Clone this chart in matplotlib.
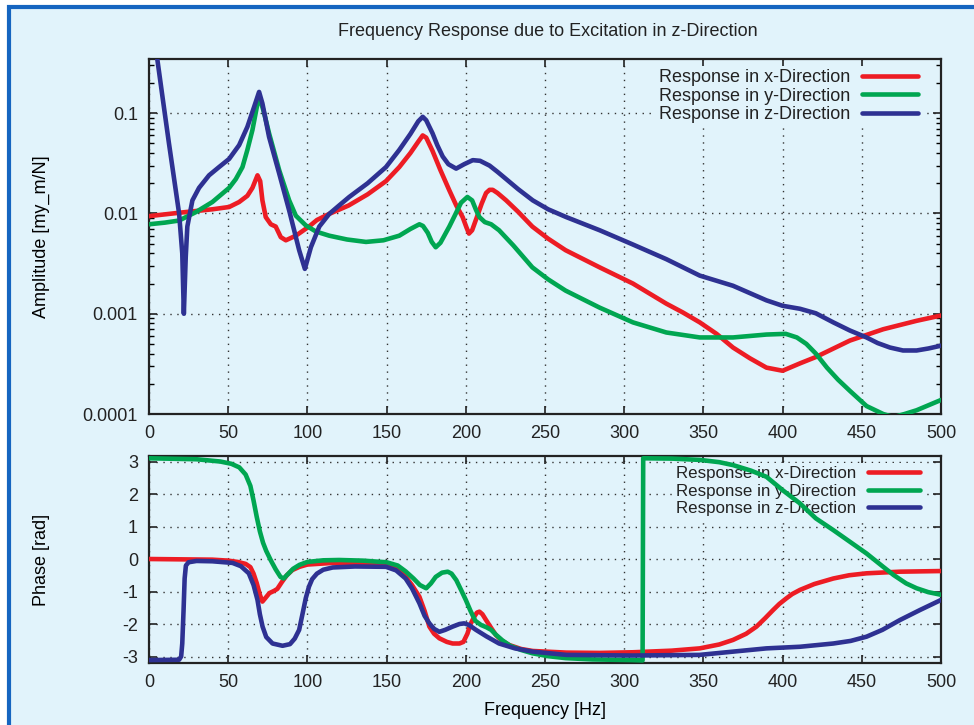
import numpy as np
import matplotlib.pyplot as plt
from matplotlib.patches import Rectangle
from matplotlib.ticker import LogLocator, NullFormatter

plt.rcParams['font.family'] = ['Liberation Sans', 'DejaVu Sans']
plt.rcParams['axes.unicode_minus'] = False

# colours
bg = '#e1f3fb'
red = '#ed1c24'
green = '#00a651'
blue = '#2e3192'

labels = ['Response in x-Direction', 'Response in y-Direction', 'Response in z-Direction']

# Amplitude data [my_m/N]
f_amp_x = [0, 20, 40, 50.6, 56.9, 62.1, 65.3, 68.5, 70.2, 71.6, 73.7, 76.9, 80, 83.2, 86.4, 92.7,
           101, 106, 113.8, 126, 138, 149.6, 158, 165, 170, 172.8, 175, 179, 184, 189.6, 194, 198,
           200.5, 202, 204, 207, 210, 212.8, 215, 217, 220, 225.5, 233, 242, 252, 263, 284.5,
           305.5, 326.6, 337, 347.7, 358.3, 368.7, 379.3, 389.8, 400, 411, 421, 442.5, 463.5,
           484.6, 500]
amp_x = [0.0094, 0.0102, 0.0110, 0.0116, 0.013, 0.015, 0.018, 0.024, 0.021, 0.0135, 0.0092,
         0.0078, 0.0074, 0.0058, 0.0054, 0.006, 0.0074, 0.0086, 0.0099, 0.012, 0.0155, 0.021,
         0.029, 0.040, 0.052, 0.060, 0.057, 0.042, 0.027, 0.017, 0.012, 0.0092, 0.0072, 0.0063,
         0.0068, 0.0092, 0.0125, 0.016, 0.0172, 0.0172, 0.016, 0.0135, 0.0104, 0.0074, 0.0056,
         0.0043, 0.0029, 0.0020, 0.00126, 0.00103, 0.00082, 0.00063, 0.00046, 0.00036, 0.00029,
         0.00027, 0.00032, 0.00037, 0.00054, 0.0007, 0.00085, 0.00096]

f_amp_y = [0, 10, 19, 29.5, 40, 50.6, 54.8, 59, 62.1, 65.3, 68.5, 69.5, 72.7, 75.8, 82.2, 88.5,
           92.7, 99, 105.4, 113.8, 125, 137, 148, 158, 165, 170.7, 173, 176, 178.5, 181, 184,
           189.6, 193, 197, 201, 204, 206.5, 208.6, 212, 216, 221, 230, 242, 252, 263, 284.5,
           305.5, 326.6, 347.7, 368.7, 389.8, 402, 409, 415, 421, 428, 435, 442.5, 453, 463.5,
           470, 477, 484.6, 500]
amp_y = [0.0078, 0.0081, 0.0085, 0.0103, 0.013, 0.018, 0.022, 0.029, 0.043, 0.068, 0.125, 0.15,
         0.1, 0.063, 0.027, 0.0135, 0.0095, 0.0076, 0.0066, 0.006, 0.0055, 0.0052, 0.0054, 0.006,
         0.007, 0.0078, 0.0075, 0.0064, 0.0052, 0.0046, 0.0051, 0.0074, 0.0095, 0.0128, 0.0146,
         0.0135, 0.0108, 0.0092, 0.0082, 0.0078, 0.0068, 0.0048, 0.0029, 0.0022, 0.0017,
         0.00115, 0.00082, 0.00065, 0.00058, 0.00058, 0.00062, 0.00063, 0.00058, 0.0005,
         0.0004, 0.00029, 0.00022, 0.00017, 0.00012, 0.0001, 0.000093, 0.0001, 0.000109,
         0.000138]

f_amp_z = [0, 5.3, 8.4, 12.6, 16.9, 19, 21, 22, 23.2, 24.2, 27.4, 31.6, 37.9, 44.2, 50.6, 56.9,
           62.1, 66.4, 69.5, 71.6, 75.8, 82.2, 88.5, 94.8, 98.4, 102.2, 107.5, 113.8, 120, 126.4,
           138, 149.6, 158, 165, 170, 172.8, 175, 179, 182, 185.4, 189, 193.9, 199, 204.4, 209,
           215, 220, 225.5, 233, 242.3, 252, 263.4, 284.5, 305.5, 326.6, 347.7, 368.7, 389.8,
           400, 411, 421, 432, 442.5, 453, 460, 467.8, 476, 484.6, 492, 500]
amp_z = [1.5, 0.34, 0.15, 0.05, 0.017, 0.01, 0.004, 0.001, 0.0037, 0.0074, 0.0135, 0.018, 0.024,
         0.029, 0.035, 0.048, 0.073, 0.116, 0.163, 0.125, 0.058, 0.025, 0.0107, 0.0043, 0.0028,
         0.0046, 0.0074, 0.0099, 0.012, 0.0146, 0.02, 0.029, 0.043, 0.062, 0.083, 0.092, 0.085,
         0.063, 0.048, 0.037, 0.031, 0.028, 0.031, 0.034, 0.0335, 0.030, 0.026, 0.022, 0.0175,
         0.0135, 0.011, 0.0092, 0.0068, 0.0049, 0.0035, 0.0024, 0.0019, 0.00136, 0.0012,
         0.00112, 0.00101, 0.00082, 0.00068, 0.00058, 0.00051, 0.00046, 0.00043, 0.00043,
         0.00045, 0.00048]

# Phase data [rad]
f_ph_x = [0, 40, 50, 56, 61, 64, 66, 68, 70, 71.6, 73.5, 76, 79, 81, 84, 87, 90.5, 95, 100, 116,
          140, 150, 157, 162, 166, 170.7, 174, 177, 180, 183.3, 188, 191.7, 196, 198.5, 201, 203,
          205.4, 207, 208.6, 210.5, 212.8, 216, 219, 223, 227.6, 235, 242.3, 263.4, 284.5, 305.5,
          330, 347.7, 360, 368.7, 377, 383.5, 389, 394, 398, 402.4, 406, 411, 420, 432, 442, 453,
          474, 500]
ph_x = [0.0, -0.02, -0.05, -0.09, -0.15, -0.25, -0.45, -0.74, -1.1, -1.31, -1.2, -1.05, -0.98,
        -0.92, -0.7, -0.5, -0.34, -0.24, -0.17, -0.12, -0.14, -0.18, -0.3, -0.54, -0.8, -1.16,
        -1.6, -2.08, -2.3, -2.44, -2.55, -2.6, -2.6, -2.55, -2.3, -2.0, -1.77, -1.65, -1.62,
        -1.7, -1.88, -2.12, -2.34, -2.52, -2.65, -2.77, -2.83, -2.88, -2.89, -2.87, -2.82,
        -2.75, -2.63, -2.49, -2.3, -2.08, -1.82, -1.57, -1.38, -1.21, -1.08, -0.95, -0.77,
        -0.6, -0.5, -0.44, -0.39, -0.37]

f_ph_y = [0, 30, 45, 52, 57, 61, 64, 66, 68, 70, 72, 74, 77, 80, 83, 85, 88, 91, 95, 100, 110,
          120, 135, 150, 157, 162, 167, 171, 175, 178, 181, 185, 188.6, 191, 194, 197, 200, 203,
          206, 209.6, 213, 216, 219, 223, 228, 235, 242, 252, 263, 280, 305, 311.6, 312, 330,
          347.7, 360, 368.7, 380, 389.8, 400, 411, 421, 432, 442.5, 453, 463.5, 470, 478, 484.6,
          492, 500]
ph_y = [3.1, 3.07, 3.0, 2.93, 2.82, 2.6, 2.25, 1.8, 1.3, 0.85, 0.5, 0.25, -0.05, -0.32, -0.55,
        -0.6, -0.45, -0.3, -0.18, -0.09, -0.04, -0.03, -0.05, -0.1, -0.2, -0.38, -0.6, -0.8,
        -0.9, -0.75, -0.55, -0.42, -0.39, -0.45, -0.65, -0.95, -1.26, -1.6, -1.9, -2.03, -2.1,
        -2.18, -2.33, -2.5, -2.67, -2.8, -2.9, -2.99, -3.05, -3.09, -3.11, -3.12, 3.1, 3.09,
        3.05, 2.98, 2.89, 2.72, 2.53, 2.12, 1.71, 1.25, 0.89, 0.53, 0.17, -0.24, -0.49, -0.75,
        -0.9, -1.02, -1.1]

f_ph_z = [0, 19, 20.3, 21, 21.8, 22.5, 23.3, 25, 30, 40, 52.7, 58, 63, 66, 68.5, 70, 71.7, 74,
          78, 84.3, 89, 92, 94.8, 97, 99, 101, 103, 106, 110, 116, 130, 149.6, 156, 162, 166,
          170.7, 174, 177, 180, 183.3, 187, 191.7, 196, 199, 202, 206.4, 213, 221, 231, 242.3,
          263.4, 305.5, 347.7, 368.7, 389.8, 411, 432, 443, 453, 463, 474, 486.7, 500]
ph_z = [-3.11, -3.1, -3.0, -2.6, -1.6, -0.6, -0.2, -0.1, -0.06, -0.07, -0.12, -0.22, -0.44,
        -0.8, -1.26, -1.7, -2.08, -2.4, -2.6, -2.67, -2.62, -2.45, -2.18, -1.67, -1.2, -0.85,
        -0.62, -0.45, -0.33, -0.26, -0.23, -0.24, -0.35, -0.6, -0.9, -1.36, -1.75, -1.98,
        -2.15, -2.24, -2.18, -2.08, -2.0, -1.98, -2.03, -2.18, -2.38, -2.6, -2.75, -2.85,
        -2.95, -2.97, -2.95, -2.85, -2.75, -2.7, -2.6, -2.52, -2.39, -2.18, -1.88, -1.57,
        -1.26]

fig = plt.figure(figsize=(9.74, 7.25), dpi=100, facecolor='white')
# light blue panel with blue border
fig.patches.append(Rectangle((9 / 974, -0.1), 1.2, (725 - 7) / 725 + 0.1,
                             transform=fig.transFigure, facecolor=bg,
                             edgecolor='#1565c0', linewidth=3, zorder=-10))

ax1 = fig.add_axes([149 / 974, 311 / 725, 792 / 974, 355 / 725])
ax2 = fig.add_axes([149 / 974, 62 / 725, 792 / 974, 207 / 725])

lw = 3.3
kw = dict(linewidth=lw, solid_joinstyle='round', solid_capstyle='round', zorder=3)
for ax in (ax1, ax2):
    ax.set_facecolor(bg)
    ax.set_axisbelow(True)
    for s in ax.spines.values():
        s.set_linewidth(1.6)
        s.set_color('#222222')
    ax.grid(True, color='#333333', linestyle=(0, (1, 4)), linewidth=1.0)
    ax.tick_params(direction='in', top=True, right=True, length=6, width=1.2,
                   labelsize=13, pad=8, colors='#222222')
    ax.tick_params(which='minor', direction='in', top=True, right=True, length=3.5, width=1.0)
    ax.set_xlim(0, 500)
    ax.set_xticks(np.arange(0, 501, 50))

ax1.plot(f_amp_x, amp_x, color=red, label=labels[0], **kw)
ax1.plot(f_amp_y, amp_y, color=green, label=labels[1], **kw)
ax1.plot(f_amp_z, amp_z, color=blue, label=labels[2], **kw)
ax1.set_yscale('log')
ax1.set_ylim(1e-4, 0.347)
ax1.set_yticks([1e-4, 1e-3, 1e-2, 1e-1])
ax1.set_yticklabels(['0.0001', '0.001', '0.01', '0.1'])
ax1.yaxis.set_minor_locator(LogLocator(base=10, subs=np.arange(2, 10)))
ax1.yaxis.set_minor_formatter(NullFormatter())
ax1.set_ylabel('Amplitude [my_m/N]', fontsize=13)
ax1.yaxis.set_label_coords(-0.125, 0.5)

ax2.plot(f_ph_x, ph_x, color=red, label=labels[0], **kw)
ax2.plot(f_ph_y, ph_y, color=green, label=labels[1], **kw)
ax2.plot(f_ph_z, ph_z, color=blue, label=labels[2], **kw)
ax2.set_ylim(-3.2, 3.17)
ax2.set_yticks(np.arange(-3, 4, 1))
ax2.set_ylabel('Phase [rad]', fontsize=13)
ax2.yaxis.set_label_coords(-0.125, 0.5)
ax2.set_xlabel('Frequency [Hz]', fontsize=13, labelpad=8)

fig.text(548 / 974, 1 - 31 / 725, 'Frequency Response due to Excitation in z-Direction',
         ha='center', va='center', fontsize=13, color='#222222')

for ax, anchor, fs, sp in ((ax1, (0.976, 0.981), 13, 0.07), (ax2, (0.978, 0.968), 12.2, 0.15)):
    leg = ax.legend(loc='upper right', bbox_to_anchor=anchor, fontsize=fs, markerfirst=False,
                    handlelength=3.1, handletextpad=0.7, labelspacing=sp, borderpad=0.2,
                    borderaxespad=0, frameon=True, fancybox=False)
    leg.get_frame().set_facecolor(bg)
    leg.get_frame().set_edgecolor('none')
    leg.get_frame().set_alpha(1)
    leg.set_zorder(1)
    for t in leg.get_texts():
        t.set_color('#222222')

plt.savefig('out.png', dpi=100, facecolor='white')
